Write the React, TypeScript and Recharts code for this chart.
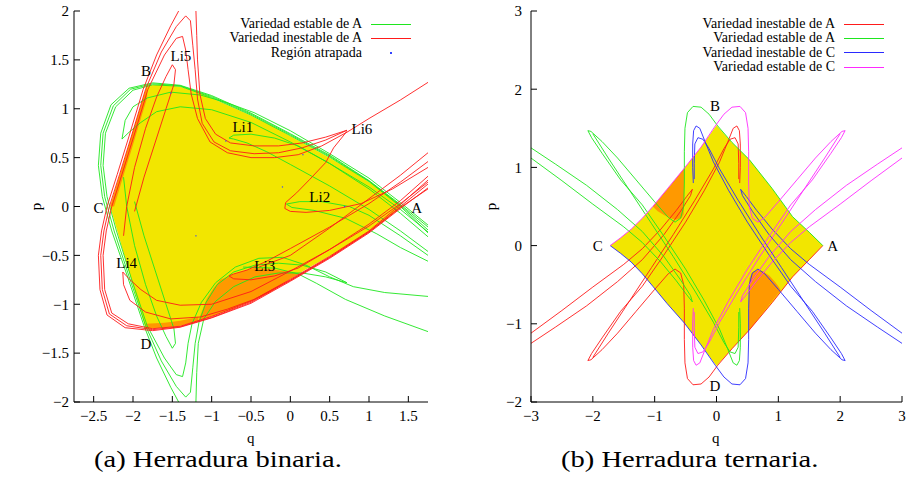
import { ComposedChart, Line, Area, Scatter, XAxis, YAxis, Legend } from 'recharts';

// Two phase-space panels: (a) binary horseshoe, (b) ternary horseshoe.
// Points are [q, p]; range rows are [q, low p, high p].

type Pt = [number, number];
type Band = [number, number, number];

const SERIF = 'Liberation Serif, DejaVu Serif, Times New Roman, serif';

const RED = '#ff1a1a';
const GREEN = '#1ee61e';
const BLUE = '#2a2aff';
const MAGENTA = '#ff2aff';
const YELLOW = '#f2e600';
const ORANGE = '#ff9900';

// ---------- panel (a) ----------
const A_Q_TICKS = [-2.5, -2, -1.5, -1, -0.5, 0, 0.5, 1, 1.5];
const A_P_TICKS = [-2, -1.5, -1, -0.5, 0, 0.5, 1, 1.5, 2];

const A_TRAPPED: Band[] = [
  [-2.29, 0, 0], [-2.2, -0.25, 0.24], [-2.1, -0.53, 0.5], [-2.0, -0.81, 0.77],
  [-1.9, -1.08, 1.03], [-1.84, -1.25, 1.19], [-1.82, -1.25, 1.24], [-1.6, -1.24, 1.245],
  [-1.4, -1.22, 1.225], [-1.2, -1.18, 1.18], [-1.0, -1.12, 1.11], [-0.75, -1.05, 1.02],
  [-0.5, -0.97, 0.93], [-0.25, -0.87, 0.83], [0, -0.74, 0.72], [0.25, -0.62, 0.61],
  [0.5, -0.51, 0.5], [0.75, -0.39, 0.38], [1.0, -0.26, 0.25], [1.2, -0.14, 0.14], [1.42, 0, 0],
];

const A_ORANGE_LOBE: Band[] = [
  [-1.17, -1.17, -1.17], [-1.1, -1.15, -1.02], [-1.06, -1.14, -0.94], [-0.98, -1.12, -0.84],
  [-0.89, -1.09, -0.75], [-0.75, -1.05, -0.7], [-0.63, -1.01, -0.67], [-0.46, -0.96, -0.63],
  [-0.26, -0.88, -0.64], [0.0, -0.74, -0.67], [0.12, -0.685, -0.685],
];

const A_ORANGE_LEFT: Band[] = [
  [-2.29, 0, 0], [-2.24, 0, 0.13], [-2.1, 0.37, 0.5], [-2.0, 0.63, 0.77],
  [-1.9, 0.9, 1.03], [-1.82, 1.11, 1.24],
];

const A_ORANGE_BOTTOM: Band[] = [
  [-1.84, -1.25, -1.2], [-1.6, -1.24, -1.19], [-1.4, -1.22, -1.17], [-1.17, -1.17, -1.13],
];

const A_STABLE: Pt[][] = [
  [[1.75, -0.21], [1.4, 0.02], [1.0, 0.265], [0.5, 0.525], [0, 0.745], [-0.5, 0.955], [-1.0, 1.135],
    [-1.4, 1.24], [-1.75, 1.265], [-2.05, 1.21], [-2.28, 1.04], [-2.41, 0.75], [-2.44, 0.42],
    [-2.39, 0.1], [-2.27, -0.25], [-2.06, -0.74], [-1.86, -1.22], [-1.7, -1.55], [-1.52, -1.85], [-1.42, -2.0]],
  [[1.75, -0.24], [1.4, 0.01], [1.0, 0.26], [0.5, 0.515], [0, 0.735], [-0.5, 0.945], [-1.0, 1.125],
    [-1.4, 1.235], [-1.75, 1.255], [-2.03, 1.2], [-2.25, 1.03], [-2.38, 0.75], [-2.41, 0.42],
    [-2.36, 0.1], [-2.24, -0.25], [-2.04, -0.74], [-1.84, -1.22], [-1.64, -1.58], [-1.45, -1.84],
    [-1.33, -1.95], [-1.27, -1.9], [-1.24, -1.65], [-1.21, -1.4], [-1.16, -1.18], [-1.07, -0.98],
    [-0.93, -0.8], [-0.72, -0.67], [-0.45, -0.6], [-0.15, -0.58], [0.15, -0.6], [0.45, -0.67],
    [0.72, -0.78], [0.45, -0.72], [0.15, -0.68], [-0.15, -0.68], [-0.45, -0.72], [-0.72, -0.82],
    [-0.95, -0.97], [-1.1, -1.15], [-1.17, -1.4], [-1.19, -1.7], [-1.2, -2.0]],
  [[1.75, -0.27], [1.4, 0.0], [1.0, 0.255], [0.5, 0.505], [0, 0.725], [-0.5, 0.935], [-1.0, 1.115],
    [-1.4, 1.23], [-1.75, 1.245], [-2.0, 1.19], [-2.22, 1.02], [-2.35, 0.75], [-2.38, 0.42],
    [-2.33, 0.1], [-2.21, -0.25], [-2.02, -0.74], [-1.82, -1.22], [-1.6, -1.55], [-1.45, -1.72],
    [-1.37, -1.74], [-1.33, -1.6], [-1.3, -1.4], [-1.25, -1.2], [-1.13, -0.98], [-0.95, -0.78],
    [-0.7, -0.62], [-0.4, -0.53], [-0.1, -0.52], [0.2, -0.6], [0.5, -0.72], [0.8, -0.82],
    [1.2, -0.88], [1.75, -0.92]],
  [[1.75, -0.31], [1.4, -0.07], [1.0, 0.18], [0.5, 0.44], [0, 0.66], [-0.5, 0.86], [-1.0, 0.99],
    [-1.4, 1.02], [-1.7, 0.97], [-1.9, 0.86], [-2.05, 0.76], [-2.14, 0.69], [-2.1, 0.88],
    [-2.0, 1.02], [-1.82, 1.11], [-1.52, 1.17], [-1.14, 1.14], [-0.8, 1.06], [-0.46, 0.96],
    [0, 0.775], [0.5, 0.54], [1.0, 0.29], [1.4, 0.04], [1.75, -0.19]],
  [[1.75, -0.46], [1.4, -0.25], [1.0, -0.03], [0.5, 0.21], [0, 0.43], [-0.3, 0.56], [-0.55, 0.65],
    [-0.72, 0.69], [-0.78, 0.7], [-0.72, 0.73], [-0.5, 0.74], [-0.2, 0.7], [0.1, 0.62], [0.5, 0.44],
    [1.0, 0.2], [1.4, -0.03], [1.75, -0.26]],
  [[1.75, -0.5], [1.4, -0.3], [1.0, -0.09], [0.75, 0.0], [0.4, 0.05], [0.12, 0.05], [-0.05, 0.025],
    [0.02, -0.01], [0.3, -0.04], [0.7, -0.12], [1.1, -0.28], [1.4, -0.42], [1.75, -0.56]],
  [[-2.12, 0.3], [-2.08, 0.0], [-1.98, -0.4], [-1.84, -0.8], [-1.7, -1.12], [-1.58, -1.33],
    [-1.5, -1.45], [-1.46, -1.4], [-1.48, -1.25], [-1.58, -1.0], [-1.72, -0.65], [-1.86, -0.3], [-1.98, 0.05]],
  [[-0.6, -0.62], [-0.2, -0.63], [0.1, -0.69], [0.33, -0.785], [0.7, -0.95], [1.2, -1.12], [1.75, -1.28]],
];

const A_UNSTABLE: Pt[][] = [
  [[1.75, 0.19], [1.4, -0.02], [1.0, -0.27], [0.5, -0.53], [0, -0.765], [-0.5, -0.99], [-1.0, -1.14],
    [-1.4, -1.235], [-1.75, -1.27], [-2.1, -1.24], [-2.33, -1.11], [-2.42, -0.85], [-2.44, -0.5],
    [-2.4, -0.25], [-2.33, 0.0], [-2.2, 0.33], [-2.05, 0.72], [-1.87, 1.2], [-1.7, 1.55], [-1.52, 1.85], [-1.42, 2.0]],
  [[1.75, 0.23], [1.4, 0.0], [1.0, -0.26], [0.5, -0.52], [0, -0.755], [-0.5, -0.98], [-1.0, -1.135],
    [-1.4, -1.23], [-1.75, -1.26], [-2.08, -1.22], [-2.3, -1.1], [-2.39, -0.85], [-2.41, -0.5],
    [-2.37, -0.25], [-2.3, 0.0], [-2.17, 0.33], [-2.02, 0.72], [-1.84, 1.2], [-1.64, 1.58], [-1.45, 1.84],
    [-1.33, 1.95], [-1.27, 1.9], [-1.24, 1.65], [-1.21, 1.4], [-1.18, 1.1], [-1.12, 0.85], [-0.97, 0.66],
    [-0.76, 0.57], [-0.46, 0.54], [-0.15, 0.55], [0.15, 0.6], [0.45, 0.68], [0.72, 0.78], [0.45, 0.71],
    [0.15, 0.65], [-0.15, 0.62], [-0.46, 0.62], [-0.76, 0.65], [-0.95, 0.74], [-1.08, 0.9], [-1.15, 1.15],
    [-1.18, 1.5], [-1.19, 1.75], [-1.2, 2.0]],
  [[1.75, 0.27], [1.4, 0.02], [1.0, -0.25], [0.5, -0.51], [0, -0.745], [-0.5, -0.97], [-1.0, -1.125],
    [-1.4, -1.225], [-1.75, -1.25], [-2.06, -1.2], [-2.27, -1.09], [-2.36, -0.85], [-2.38, -0.5],
    [-2.34, -0.25], [-2.27, 0.0], [-2.14, 0.33], [-1.99, 0.72], [-1.81, 1.2], [-1.6, 1.55], [-1.45, 1.72],
    [-1.37, 1.74], [-1.33, 1.6], [-1.3, 1.4], [-1.26, 1.15], [-1.18, 0.9], [-1.02, 0.66], [-0.8, 0.55],
    [-0.5, 0.5], [-0.2, 0.5], [0.1, 0.53], [0.4, 0.62], [0.72, 0.76], [1.0, 0.9], [1.4, 1.09], [1.75, 1.27]],
  [[1.75, 0.31], [1.4, 0.06], [1.0, -0.18], [0.5, -0.44], [0, -0.66], [-0.5, -0.87], [-1.0, -1.0],
    [-1.4, -1.01], [-1.7, -0.96], [-1.9, -0.85], [-2.05, -0.74], [-2.13, -0.67], [-2.12, -0.8],
    [-2.04, -0.96], [-1.84, -1.08], [-1.52, -1.15], [-1.14, -1.13], [-0.8, -1.05], [-0.46, -0.95],
    [0, -0.755], [0.5, -0.52], [1.0, -0.26], [1.4, -0.01], [1.75, 0.18]],
  [[1.75, 0.46], [1.4, 0.25], [1.0, 0.03], [0.5, -0.21], [0, -0.43], [-0.3, -0.56], [-0.55, -0.65],
    [-0.72, -0.69], [-0.78, -0.71], [-0.72, -0.74], [-0.5, -0.75], [-0.2, -0.71], [0.1, -0.63],
    [0.5, -0.44], [1.0, -0.2], [1.4, 0.03], [1.75, 0.25]],
  [[0.72, 0.77], [0.55, 0.6], [0.45, 0.45], [0.25, 0.28], [0.08, 0.14], [-0.06, 0.04], [-0.07, -0.02],
    [0.0, -0.05], [0.2, -0.06], [0.5, -0.04], [0.9, 0.03], [1.3, 0.18], [1.75, 0.4]],
  [[-2.12, -0.3], [-2.08, 0.0], [-1.98, 0.4], [-1.84, 0.8], [-1.7, 1.12], [-1.58, 1.33], [-1.5, 1.45],
    [-1.46, 1.4], [-1.48, 1.25], [-1.58, 1.0], [-1.72, 0.65], [-1.86, 0.3], [-1.98, -0.05]],
  [[-0.4, -0.62], [0.0, -0.5], [0.5, -0.22], [1.0, 0.08], [1.4, 0.32], [1.75, 0.55]],
];

const A_TRAPPED_DOTS: Pt[] = [[0.69, 0.0], [-1.52, 1.16], [-0.82, 0.67], [0.16, 0.53], [-1.2, -0.3], [-0.1, 0.2]];

const A_MARKS = [
  { q: -1.836, p: 1.386, t: 'B' }, { q: -1.391, p: 1.54, t: 'Li5' }, { q: -0.604, p: 0.813, t: 'Li1' },
  { q: 0.91, p: 0.795, t: 'Li6' }, { q: -2.44, p: -0.015, t: 'C' }, { q: 0.374, p: 0.095, t: 'Li2' },
  { q: 1.606, p: -0.015, t: 'A' }, { q: -2.08, p: -0.58, t: 'Li4' }, { q: -0.325, p: -0.609, t: 'Li3' },
  { q: -1.836, p: -1.407, t: 'D' },
];

const A_KEYS = [
  { name: 'Variedad estable de A', color: GREEN },
  { name: 'Variedad inestable de A', color: RED },
  { name: 'Región atrapada', color: '#3344ff', dot: true },
];

// ---------- panel (b) ----------
const B_Q_TICKS = [-3, -2, -1, 0, 1, 2, 3];
const B_P_TICKS = [-2, -1, 0, 1, 2, 3];

const B_TRAPPED: Band[] = [
  [-1.72, 0, 0], [-1.55, -0.1, 0.1], [-1.38, -0.21, 0.21], [-1.2, -0.36, 0.35], [-1.03, -0.52, 0.5],
  [-0.8, -0.74, 0.72], [-0.52, -0.99, 0.99], [-0.25, -1.27, 1.26], [0, -1.54, 1.54], [0.25, -1.32, 1.32],
  [0.53, -1.08, 1.1], [0.9, -0.73, 0.73], [1.23, -0.4, 0.37], [1.5, -0.18, 0.17], [1.72, 0, 0],
];

const B_ORANGE_UPPER: Band[] = [
  [-1.03, 0.5, 0.5], [-0.95, 0.44, 0.57], [-0.85, 0.39, 0.67], [-0.75, 0.35, 0.76],
  [-0.65, 0.33, 0.86], [-0.57, 0.35, 0.94], [-0.53, 0.4, 0.98], [-0.52, 0.97, 0.99],
];

const B_ORANGE_LOWER: Band[] = [
  [0.52, -1.09, -1.09], [0.53, -1.08, -0.42], [0.58, -1.03, -0.34], [0.67, -0.94, -0.31],
  [0.76, -0.85, -0.33], [0.86, -0.75, -0.39], [0.95, -0.66, -0.47], [1.0, -0.61, -0.52], [1.04, -0.57, -0.57],
];

const B_UNSTABLE_A: Pt[][] = [
  [[1.72, 0], [1.5, -0.18], [1.23, -0.4], [0.9, -0.73], [0.53, -1.08], [0.25, -1.32], [0.02, -1.53],
    [-0.12, -1.68], [-0.25, -1.77], [-0.38, -1.78], [-0.47, -1.7], [-0.51, -1.5], [-0.52, -1.2],
    [-0.52, -0.8], [-0.53, -0.5], [-0.58, -0.35], [-0.67, -0.3], [-0.78, -0.36], [-1.0, -0.56],
    [-1.3, -0.84], [-1.6, -1.12], [-1.85, -1.33], [-2.03, -1.46], [-2.08, -1.47], [-2.02, -1.38],
    [-1.85, -1.18], [-1.55, -0.84], [-1.2, -0.52], [-0.85, -0.12], [-0.5, 0.3], [-0.2, 0.7],
    [0.05, 1.07], [0.18, 1.32], [0.27, 1.5], [0.33, 1.53], [0.37, 1.47], [0.385, 1.3], [0.385, 1.0], [0.375, 0.8]],
  [[-3, -1.12], [-2.5, -0.83], [-2.0, -0.53], [-1.5, -0.24], [-1.2, -0.04], [-0.9, 0.21], [-0.65, 0.45],
    [-0.48, 0.63], [-0.39, 0.72], [-0.42, 0.64], [-0.58, 0.44], [-0.85, 0.14], [-1.2, -0.18],
    [-1.6, -0.46], [-2.1, -0.77], [-2.6, -1.04], [-3, -1.25]],
  [[-2.0, -1.43], [-1.75, -1.12], [-1.4, -0.7], [-1.05, -0.28], [-0.7, 0.14], [-0.35, 0.58],
    [-0.05, 0.98], [0.12, 1.24], [0.22, 1.36], [0.3, 1.38], [0.35, 1.3], [0.36, 1.05], [0.36, 0.85]],
];

const B_STABLE_A: Pt[][] = [
  [[1.72, 0], [1.5, 0.17], [1.23, 0.37], [0.9, 0.73], [0.53, 1.1], [0.25, 1.32], [0.02, 1.53],
    [-0.12, 1.68], [-0.25, 1.77], [-0.38, 1.78], [-0.47, 1.7], [-0.51, 1.5], [-0.52, 1.2],
    [-0.52, 0.8], [-0.53, 0.5], [-0.58, 0.35], [-0.67, 0.3], [-0.78, 0.36], [-1.0, 0.56],
    [-1.3, 0.84], [-1.6, 1.12], [-1.85, 1.33], [-2.03, 1.46], [-2.08, 1.47], [-2.02, 1.38],
    [-1.85, 1.18], [-1.55, 0.84], [-1.2, 0.52], [-0.85, 0.12], [-0.5, -0.3], [-0.2, -0.7],
    [0.05, -1.07], [0.18, -1.32], [0.27, -1.5], [0.33, -1.53], [0.37, -1.47], [0.385, -1.3], [0.385, -1.0], [0.375, -0.8]],
  [[-3, 1.12], [-2.5, 0.83], [-2.0, 0.53], [-1.5, 0.24], [-1.2, 0.04], [-0.9, -0.21], [-0.65, -0.45],
    [-0.48, -0.63], [-0.39, -0.72], [-0.42, -0.64], [-0.58, -0.44], [-0.85, -0.14], [-1.2, 0.18],
    [-1.6, 0.46], [-2.1, 0.77], [-2.6, 1.04], [-3, 1.25]],
  [[-2.0, 1.43], [-1.75, 1.12], [-1.4, 0.7], [-1.05, 0.28], [-0.7, -0.14], [-0.35, -0.58],
    [-0.05, -0.98], [0.12, -1.24], [0.22, -1.36], [0.3, -1.38], [0.35, -1.3], [0.36, -1.05], [0.36, -0.85]],
];

const B_UNSTABLE_C: Pt[][] = [
  [[-1.72, 0], [-1.55, -0.1], [-1.38, -0.21], [-1.2, -0.36], [-1.03, -0.52], [-0.8, -0.74],
    [-0.52, -0.99], [-0.25, -1.27], [-0.02, -1.53], [0.12, -1.68], [0.25, -1.77], [0.38, -1.78],
    [0.47, -1.7], [0.51, -1.5], [0.52, -1.2], [0.52, -0.8], [0.53, -0.5], [0.58, -0.35], [0.67, -0.3],
    [0.78, -0.36], [1.0, -0.56], [1.3, -0.84], [1.6, -1.12], [1.85, -1.33], [2.03, -1.46], [2.08, -1.47],
    [2.02, -1.38], [1.85, -1.18], [1.55, -0.84], [1.2, -0.52], [0.85, -0.12], [0.5, 0.3], [0.2, 0.7],
    [-0.05, 1.07], [-0.18, 1.32], [-0.27, 1.5], [-0.33, 1.53], [-0.37, 1.47], [-0.385, 1.3], [-0.385, 1.0], [-0.375, 0.8]],
  [[3, -1.12], [2.5, -0.83], [2.0, -0.53], [1.5, -0.24], [1.2, -0.04], [0.9, 0.21], [0.65, 0.45],
    [0.48, 0.63], [0.39, 0.72], [0.42, 0.64], [0.58, 0.44], [0.85, 0.14], [1.2, -0.18],
    [1.6, -0.46], [2.1, -0.77], [2.6, -1.04], [3, -1.25]],
  [[2.0, -1.43], [1.75, -1.12], [1.4, -0.7], [1.05, -0.28], [0.7, 0.14], [0.35, 0.58],
    [0.05, 0.98], [-0.12, 1.24], [-0.22, 1.36], [-0.3, 1.38], [-0.35, 1.3], [-0.36, 1.05], [-0.36, 0.85]],
];

const B_STABLE_C: Pt[][] = [
  [[-1.72, 0], [-1.55, 0.1], [-1.38, 0.21], [-1.2, 0.35], [-1.03, 0.5], [-0.8, 0.72],
    [-0.52, 0.99], [-0.25, 1.26], [-0.02, 1.53], [0.12, 1.68], [0.25, 1.77], [0.38, 1.78],
    [0.47, 1.7], [0.51, 1.5], [0.52, 1.2], [0.52, 0.8], [0.53, 0.5], [0.58, 0.35], [0.67, 0.3],
    [0.78, 0.36], [1.0, 0.56], [1.3, 0.84], [1.6, 1.12], [1.85, 1.33], [2.03, 1.46], [2.08, 1.47],
    [2.02, 1.38], [1.85, 1.18], [1.55, 0.84], [1.2, 0.52], [0.85, 0.12], [0.5, -0.3], [0.2, -0.7],
    [-0.05, -1.07], [-0.18, -1.32], [-0.27, -1.5], [-0.33, -1.53], [-0.37, -1.47], [-0.385, -1.3], [-0.385, -1.0], [-0.375, -0.8]],
  [[3, 1.12], [2.5, 0.83], [2.0, 0.53], [1.5, 0.24], [1.2, 0.04], [0.9, -0.21], [0.65, -0.45],
    [0.48, -0.63], [0.39, -0.72], [0.42, -0.64], [0.58, -0.44], [0.85, -0.14], [1.2, 0.18],
    [1.6, 0.46], [2.1, 0.77], [2.6, 1.04], [3, 1.25]],
  [[2.0, 1.43], [1.75, 1.12], [1.4, 0.7], [1.05, 0.28], [0.7, -0.14], [0.35, -0.58],
    [0.05, -0.98], [-0.12, -1.24], [-0.22, -1.36], [-0.3, -1.38], [-0.35, -1.3], [-0.36, -1.05], [-0.36, -0.85]],
];

const B_MARKS = [
  { q: -0.024, p: 1.785, t: 'B' }, { q: -1.92, p: 0, t: 'C' },
  { q: 1.88, p: 0, t: 'A' }, { q: -0.024, p: -1.8, t: 'D' },
];

const B_KEYS = [
  { name: 'Variedad inestable de A', color: RED },
  { name: 'Variedad estable de A', color: GREEN },
  { name: 'Variedad inestable de C', color: BLUE },
  { name: 'Variedad estable de C', color: MAGENTA },
];

// ---------- helpers ----------
const toPoints = (c: Pt[]) => c.map(([q, p]) => ({ q, p }));
const toBand = (b: Band[]) => b.map(([q, lo, hi]) => ({ q, r: [lo, hi] }));
const fmt = (v: number) => String(v).replace('-', '\u2212');
const TICK = { fill: '#000', fontSize: 15, fontFamily: SERIF };

function MarkText(props: any) {
  const { cx, cy, payload } = props;
  return (
    <text x={cx} y={cy} textAnchor="middle" dominantBaseline="central" fontSize={15} fontFamily={SERIF} fill="#000">
      {payload.t}
    </text>
  );
}

function KeyBox({ rows, textWidth }: { rows: { name: string; color: string; dot?: boolean }[]; textWidth: number }) {
  return (
    <div style={{ fontFamily: SERIF, fontSize: 14, color: '#000' }}>
      {rows.map((r) => (
        <div key={r.name} style={{ display: 'flex', alignItems: 'center', height: 14.4, lineHeight: '14.4px' }}>
          <span style={{ width: textWidth, textAlign: 'right', whiteSpace: 'nowrap' }}>{r.name}</span>
          <span style={{ width: 9 }} />
          {r.dot ? (
            <span style={{ width: 40, display: 'flex', justifyContent: 'center' }}>
              <span style={{ width: 2, height: 2, background: r.color }} />
            </span>
          ) : (
            <span style={{ width: 40, height: 0, borderTop: `1px solid ${r.color}` }} />
          )}
        </div>
      ))}
    </div>
  );
}

function axes(qDomain: number[], pDomain: number[], qTicks: number[], pTicks: number[], yWidth: number, yMargin: number) {
  return [
    <XAxis key="xb" xAxisId="x" dataKey="q" type="number" domain={qDomain} ticks={qTicks} interval={0}
      allowDataOverflow height={28} tickSize={-6} tickMargin={14} tick={TICK} tickFormatter={fmt} stroke="#000" />,
    <XAxis key="xt" xAxisId="xt" orientation="top" dataKey="q" type="number" domain={qDomain} ticks={qTicks}
      interval={0} allowDataOverflow height={0} tickSize={-6} tick={false} stroke="#000" />,
    <YAxis key="yl" yAxisId="y" dataKey="p" type="number" domain={pDomain} ticks={pTicks} interval={0}
      allowDataOverflow width={yWidth} tickSize={-6} tickMargin={yMargin} tick={TICK} tickFormatter={fmt} stroke="#000" />,
    <YAxis key="yr" yAxisId="yr" orientation="right" dataKey="p" type="number" domain={pDomain} ticks={pTicks}
      interval={0} allowDataOverflow width={0} tickSize={-6} tick={false} stroke="#777" />,
  ];
}

function band(key: string, rows: Band[], fill: string) {
  return (
    <Area key={key} xAxisId="x" yAxisId="y" data={toBand(rows)} dataKey="r" type="linear" stroke="none"
      fill={fill} fillOpacity={1} isAnimationActive={false} activeDot={false} legendType="none" />
  );
}

function curves(key: string, list: Pt[][], color: string) {
  return list.map((c, i) => (
    <Line key={`${key}${i}`} xAxisId="x" yAxisId="y" data={toPoints(c)} dataKey="p" type="linear"
      stroke={color} strokeWidth={0.9} dot={false} activeDot={false} isAnimationActive={false} legendType="none" />
  ));
}

export default function App() {
  return (
    <div style={{ position: 'absolute', left: 0, top: 0, width: 909, height: 477, background: '#fff', fontFamily: SERIF }}>
      <div style={{ position: 'absolute', left: 0, top: 0 }}>
        <ComposedChart width={450} height={430} margin={{ top: 11, right: 22, bottom: 0, left: 0 }}>
          {axes([-2.75, 1.75], [-2, 2], A_Q_TICKS, A_P_TICKS, 74, 11)}
          {band('ya', A_TRAPPED, YELLOW)}
          {band('oa1', A_ORANGE_LOBE, ORANGE)}
          {band('oa2', A_ORANGE_LEFT, ORANGE)}
          {band('oa3', A_ORANGE_BOTTOM, ORANGE)}
          {curves('ga', A_STABLE, GREEN)}
          {curves('ra', A_UNSTABLE, RED)}
          <Scatter xAxisId="x" yAxisId="y" data={toPoints(A_TRAPPED_DOTS)} fill="#3344ff" isAnimationActive={false}
            shape={(p: any) => <rect x={p.cx - 0.6} y={p.cy - 0.6} width={1.2} height={1.2} fill="#3344ff" />} legendType="none" />
          <Scatter xAxisId="x" yAxisId="y" data={A_MARKS} isAnimationActive={false} shape={MarkText} legendType="none" />
          <Legend layout="vertical" align="center" verticalAlign="middle"
            wrapperStyle={{ left: 150, top: 17, width: 262 }}
            content={() => <KeyBox rows={A_KEYS} textWidth={212} />} />
        </ComposedChart>
      </div>
      <div style={{ position: 'absolute', left: 455, top: 0 }}>
        <ComposedChart width={454} height={430} margin={{ top: 11, right: 7, bottom: 0, left: 0 }}>
          {axes([-3, 3], [-2, 3], B_Q_TICKS, B_P_TICKS, 76, 15)}
          {band('yb', B_TRAPPED, YELLOW)}
          {band('ob1', B_ORANGE_UPPER, ORANGE)}
          {band('ob2', B_ORANGE_LOWER, ORANGE)}
          {curves('rb', B_UNSTABLE_A, RED)}
          {curves('gb', B_STABLE_A, GREEN)}
          {curves('bb', B_UNSTABLE_C, BLUE)}
          {curves('mb', B_STABLE_C, MAGENTA)}
          <Scatter xAxisId="x" yAxisId="y" data={B_MARKS} isAnimationActive={false} shape={MarkText} legendType="none" />
          <Legend layout="vertical" align="center" verticalAlign="middle"
            wrapperStyle={{ left: 150, top: 17, width: 280 }}
            content={() => <KeyBox rows={B_KEYS} textWidth={230} />} />
        </ComposedChart>
      </div>

      <div style={{ position: 'absolute', left: 33, top: 198, fontSize: 15, transform: 'rotate(-90deg)' }}>p</div>
      <div style={{ position: 'absolute', left: 247, top: 430, fontSize: 15 }}>q</div>
      <div style={{ position: 'absolute', left: 488, top: 198, fontSize: 15, transform: 'rotate(-90deg)' }}>p</div>
      <div style={{ position: 'absolute', left: 712, top: 430, fontSize: 15 }}>q</div>

      <div style={{ position: 'absolute', left: 88, width: 260, top: 447, fontSize: 23, textAlign: 'center', whiteSpace: 'nowrap' }}>
        <span style={{ display: 'inline-block', transform: 'scaleX(1.24)' }}>(a) Herradura binaria.</span>
      </div>
      <div style={{ position: 'absolute', left: 555, width: 270, top: 447, fontSize: 23, textAlign: 'center', whiteSpace: 'nowrap' }}>
        <span style={{ display: 'inline-block', transform: 'scaleX(1.24)' }}>(b) Herradura ternaria.</span>
      </div>
    </div>
  );
}
